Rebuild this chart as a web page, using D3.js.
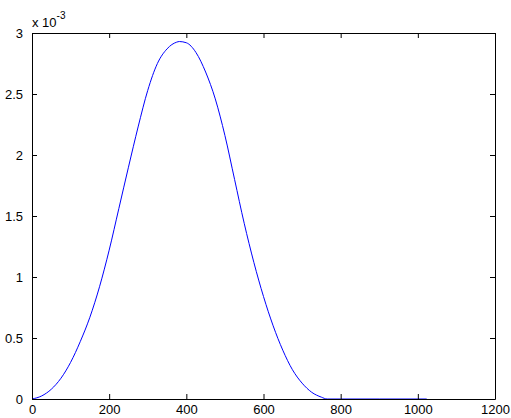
<!DOCTYPE html>
<html>
<head>
<meta charset="utf-8">
<script src="https://cdn.jsdelivr.net/npm/d3@7"></script>
<style>
  body { margin: 0; background: #fff; }
  text { font-family: "Liberation Sans", Arial, sans-serif; }
</style>
</head>
<body>
<svg id="chart" width="511" height="418"></svg>
<script>
// sample positions and values (values in units of 1e-3)
var sampleX = [0, 25, 50, 75, 100, 125, 150, 175, 200, 225, 250, 275, 300, 325, 350, 375, 382,
               400, 425, 450, 475, 500, 525, 550, 575, 600, 625, 650, 675, 700, 725, 750, 765,
               800, 900, 1023];
var sampleY = [0, 0.025, 0.08, 0.17, 0.30, 0.47, 0.67, 0.92, 1.22, 1.56, 1.90, 2.23, 2.53, 2.75, 2.87, 2.925, 2.93,
               2.92, 2.84, 2.68, 2.46, 2.16, 1.80, 1.44, 1.12, 0.84, 0.60, 0.40, 0.24, 0.13, 0.055, 0.015, 0,
               0, 0, 0];
var xTicks = [0, 200, 400, 600, 800, 1000, 1200];
var yTicks = [0, 0.5, 1, 1.5, 2, 2.5, 3];

var svg = d3.select("#chart");
// note: "top" is taken by window.top, so plot box edges get their own names
var plotLeft = 32, plotRight = 495, plotTop = 33, plotBottom = 399;

var x = d3.scaleLinear().domain([0, 1200]).range([plotLeft, plotRight]);
var y = d3.scaleLinear().domain([0, 3]).range([plotBottom, plotTop]);

var data = sampleX.map(function (d, i) { return { x: d, y: sampleY[i] }; });

// curve
svg.append("path")
    .datum(data)
    .attr("fill", "none")
    .attr("stroke", "#0000ff")
    .attr("stroke-width", 1)
    .attr("d", d3.line()
        .x(function (d) { return x(d.x); })
        .y(function (d) { return y(d.y); })
        .curve(d3.curveMonotoneX));

// axes, MATLAB style with inward ticks on all sides
var fmt = function (d) { return String(d); };

svg.append("g")
    .attr("transform", "translate(0," + plotBottom + ")")
    .call(d3.axisBottom(x).tickValues(xTicks).tickSizeInner(-5).tickSizeOuter(0).tickPadding(6).tickFormat(fmt));
svg.append("g")
    .attr("transform", "translate(0," + plotTop + ")")
    .call(d3.axisTop(x).tickValues(xTicks).tickSizeInner(-5).tickSizeOuter(0).tickFormat(""));
svg.append("g")
    .attr("transform", "translate(" + plotLeft + ",0)")
    .call(d3.axisLeft(y).tickValues(yTicks).tickSizeInner(-5).tickSizeOuter(0).tickPadding(9).tickFormat(fmt));
svg.append("g")
    .attr("transform", "translate(" + plotRight + ",0)")
    .call(d3.axisRight(y).tickValues(yTicks).tickSizeInner(-5).tickSizeOuter(0).tickFormat(""));

svg.selectAll(".domain").attr("stroke", "#000");
svg.selectAll(".tick line").attr("stroke", "#000");
svg.selectAll(".tick text")
    .attr("fill", "#000")
    .style("font-size", "13px")
    .style("font-family", "'Liberation Sans', Arial, sans-serif");

// exponent label
var expo = svg.append("text")
    .attr("x", plotLeft)
    .attr("y", 27)
    .attr("font-size", 13)
    .attr("fill", "#000");
expo.append("tspan").text("x 10");
expo.append("tspan").attr("dy", -8).attr("font-size", 10).text("-3");
</script>
</body>
</html>
